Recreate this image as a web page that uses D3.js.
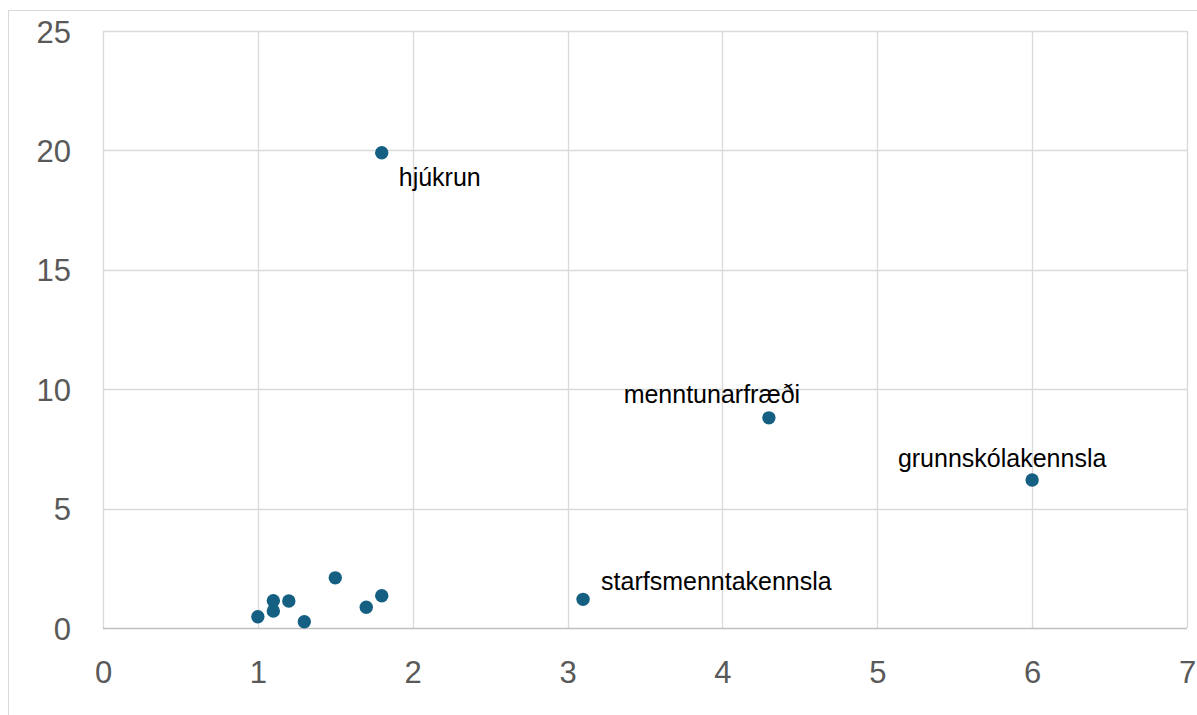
<!DOCTYPE html>
<html>
<head>
<meta charset="utf-8">
<script src="https://cdn.jsdelivr.net/npm/d3@7"></script>
<style>
  html, body { margin: 0; padding: 0; background: #ffffff; }
  svg { display: block; }
</style>
</head>
<body>
<svg id="chart" width="1197" height="715"></svg>
<script>
// ---- data ----
const xValues = [1.8, 4.3, 6.0, 3.1, 1.0, 1.1, 1.1, 1.2, 1.3, 1.5, 1.7, 1.8];
const yValues = [19.9, 8.8, 6.2, 1.2, 0.47, 0.71, 1.14, 1.13, 0.26, 2.1, 0.87, 1.35];
const pointLabels = ["hjúkrun", "menntunarfræði", "grunnskólakennsla", "starfsmenntakennsla", "", "", "", "", "", "", "", ""];
const xTicks = [0, 1, 2, 3, 4, 5, 6, 7];
const yTicks = [0, 5, 10, 15, 20, 25];

// ---- layout ----
const W = 1197, H = 715;
const plot = { left: 103, right: 1187, top: 31, bottom: 628 };
const labelPlacement = {
  "hjúkrun": { dx: 17, dy: 33, anchor: "start" },
  "menntunarfræði": { dx: -57, dy: -15, anchor: "middle" },
  "grunnskólakennsla": { dx: -30, dy: -13, anchor: "middle" },
  "starfsmenntakennsla": { dx: 18, dy: -9, anchor: "start" }
};

const svg = d3.select("#chart");

// outer chart border
svg.append("rect")
  .attr("x", 8.5).attr("y", 10.5)
  .attr("width", 1210).attr("height", 720)
  .attr("fill", "none").attr("stroke", "#d9d9d9").attr("stroke-width", 1);

const x = d3.scaleLinear().domain([0, 7]).range([plot.left, plot.right]);
const y = d3.scaleLinear().domain([0, 25]).range([plot.bottom, plot.top]);

// gridlines
const grid = svg.append("g");
grid.selectAll(".vg").data(xTicks).join("line")
  .attr("x1", d => Math.round(x(d)) + 0.5).attr("x2", d => Math.round(x(d)) + 0.5)
  .attr("y1", plot.top).attr("y2", plot.bottom)
  .attr("stroke", "#d9d9d9").attr("stroke-width", 1.3);
grid.selectAll(".hg").data(yTicks).join("line")
  .attr("x1", plot.left).attr("x2", plot.right)
  .attr("y1", d => Math.round(y(d)) + 0.5).attr("y2", d => Math.round(y(d)) + 0.5)
  .attr("stroke", d => d === 0 ? "#bfbfbf" : "#d9d9d9").attr("stroke-width", 1.3);

// axes (labels only)
const xAxis = d3.axisBottom(x).tickValues(xTicks).tickSize(0).tickPadding(0).tickFormat(d3.format("d"));
const yAxis = d3.axisLeft(y).tickValues(yTicks).tickSize(0).tickPadding(0).tickFormat(d3.format("d"));

const gx = svg.append("g").attr("transform", `translate(0,${plot.bottom})`).call(xAxis);
gx.select(".domain").remove();
gx.selectAll("text")
  .attr("dy", null).attr("y", 55)
  .attr("font-family", "'Liberation Sans', Arial, sans-serif")
  .attr("font-size", 31).attr("fill", "#595959");

const gy = svg.append("g").attr("transform", `translate(71,0)`).call(yAxis);
gy.select(".domain").remove();
gy.selectAll("text")
  .attr("dy", "0.36em")
  .attr("font-family", "'Liberation Sans', Arial, sans-serif")
  .attr("font-size", 31).attr("fill", "#595959");

// points
const pts = xValues.map((v, i) => ({ x: v, y: yValues[i], label: pointLabels[i] }));
svg.append("g").selectAll("circle").data(pts).join("circle")
  .attr("cx", d => x(d.x)).attr("cy", d => y(d.y))
  .attr("r", 6.7).attr("fill", "#156082");

// data labels
svg.append("g").selectAll("text").data(pts.filter(d => d.label)).join("text")
  .attr("x", d => x(d.x) + labelPlacement[d.label].dx)
  .attr("y", d => y(d.y) + labelPlacement[d.label].dy)
  .attr("text-anchor", d => labelPlacement[d.label].anchor)
  .attr("font-family", "'Liberation Sans', Arial, sans-serif")
  .attr("font-size", 25).attr("fill", "#000000")
  .text(d => d.label);
</script>
</body>
</html>
